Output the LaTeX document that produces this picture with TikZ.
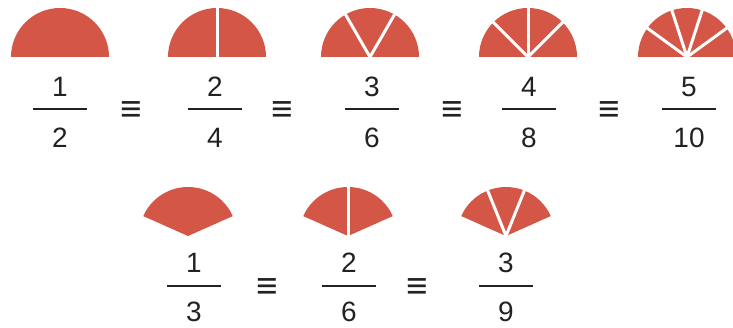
\documentclass[tikz,border=0pt]{standalone}
\usepackage{fontspec}
\setmainfont{Liberation Sans}
\definecolor{wedgered}{RGB}{211,86,71}
\definecolor{ink}{RGB}{34,34,34}

\begin{document}
\begin{tikzpicture}[x=1pt,y=1pt,
    wedge/.style={fill=wedgered,draw=none},
    spoke/.style={draw=white,line width=3pt},
    digit/.style={inner sep=0pt,text=ink,font=\fontsize{28}{28}\selectfont},
    fracbar/.style={draw=ink,line width=2.6pt},
    equiv/.style={inner sep=0pt,text=ink,font=\fontsize{37}{37}\selectfont}]
    \useasboundingbox (0,0) rectangle (733,328);

    % Top row: halves of a circle
    \coordinate (h1) at (60,271);
    \coordinate (h2) at (217,271);
    \coordinate (h3) at (370,271);
    \coordinate (h4) at (528,271);
    \coordinate (h5) at (687,271);
    \fill[wedge] (h1) ++(49,0) arc (0:180:49) -- cycle;
    \fill[wedge] (h2) ++(49,0) arc (0:180:49) -- cycle;
    \fill[wedge] (h3) ++(49,0) arc (0:180:49) -- cycle;
    \fill[wedge] (h4) ++(49,0) arc (0:180:49) -- cycle;
    \fill[wedge] (h5) ++(49,0) arc (0:180:49) -- cycle;

    % White cuts
    \draw[spoke] (h2) -- ++(90:50);
    \draw[spoke] (h3) -- ++(60:50);
    \draw[spoke] (h3) -- ++(120:50);
    \draw[spoke] (h4) -- ++(45:50);
    \draw[spoke] (h4) -- ++(90:50);
    \draw[spoke] (h4) -- ++(135:50);
    \foreach \a in {36,72,108,144}
        \draw[spoke] (h5) -- ++(\a:50);

    % Top row: fractions
    \node[digit] (n1) at (60,241) {1};
    \node[digit] (d1) at (60,190) {2};
    \draw[fracbar] (33,219) -- (87,219);
    \node[equiv] (e1) at (131,216) {≡};
    \node[digit] (n2) at (215,241) {2};
    \node[digit] (d2) at (215,190) {4};
    \draw[fracbar] (188,219) -- (242,219);
    \node[equiv] (e2) at (282,216) {≡};
    \node[digit] (n3) at (372,241) {3};
    \node[digit] (d3) at (372,190) {6};
    \draw[fracbar] (345,219) -- (399,219);
    \node[equiv] (e3) at (452,216) {≡};
    \node[digit] (n4) at (529,241) {4};
    \node[digit] (d4) at (529,190) {8};
    \draw[fracbar] (502,219) -- (556,219);
    \node[equiv] (e4) at (609,216) {≡};
    \node[digit] (n5) at (689,241) {5};
    \node[digit] (d5) at (689,190) {10};
    \draw[fracbar] (662,219) -- (716,219);

    % Bottom row: thirds
    \coordinate (t1) at (188,92);
    \coordinate (t2) at (348,92);
    \coordinate (t3) at (506,92);
    \fill[wedge] (t1) -- ++(24:49) arc (24:156:49) -- cycle;
    \fill[wedge] (t2) -- ++(24:49) arc (24:156:49) -- cycle;
    \fill[wedge] (t3) -- ++(24:49) arc (24:156:49) -- cycle;
    \draw[spoke] (t2) -- ++(90:50);
    \draw[spoke] (t3) -- ++(68:50);
    \draw[spoke] (t3) -- ++(112:50);

    % Bottom row: fractions
    \node[digit] (n6) at (194,65) {1};
    \node[digit] (d6) at (194,16) {3};
    \draw[fracbar] (167,42) -- (221,42);
    \node[equiv] (e5) at (267,39) {≡};
    \node[digit] (n7) at (349,65) {2};
    \node[digit] (d7) at (349,16) {6};
    \draw[fracbar] (322,42) -- (376,42);
    \node[equiv] (e6) at (417,39) {≡};
    \node[digit] (n8) at (506,65) {3};
    \node[digit] (d8) at (506,16) {9};
    \draw[fracbar] (479,42) -- (533,42);
\end{tikzpicture}
\end{document}
